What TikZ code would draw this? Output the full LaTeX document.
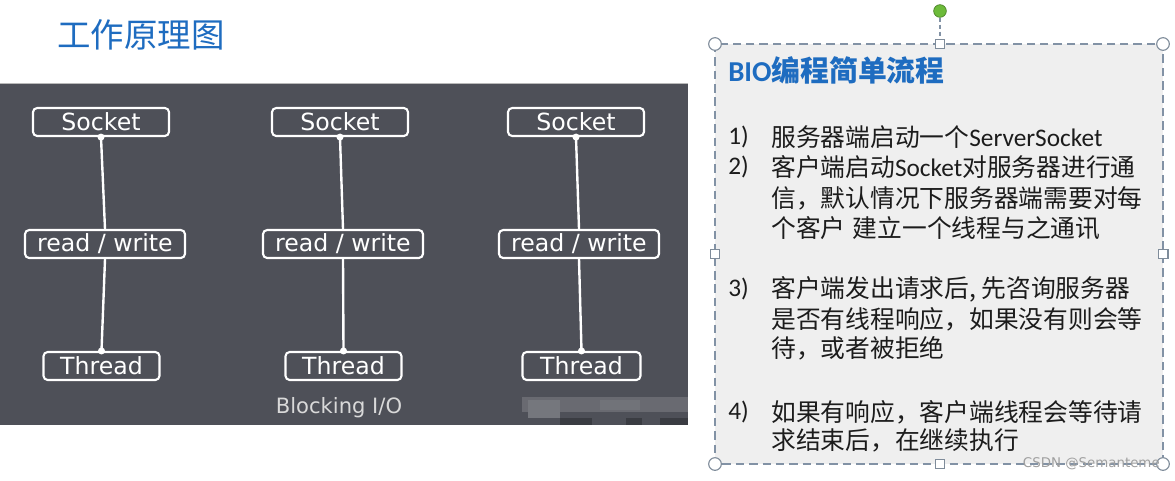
\documentclass[tikz,border=0pt]{standalone}
\usepackage{fontspec}
\setmainfont{Noto Sans CJK SC}
\newfontfamily\dvsans{DejaVu Sans}
\newfontfamily\calib{Carlito}

\definecolor{titleblue}{HTML}{1E6CC0}
\definecolor{panelgray}{HTML}{4E5058}
\definecolor{notegray}{HTML}{EFEFEF}
\definecolor{framegray}{HTML}{8292A5}
\definecolor{handlegray}{HTML}{7F8C9A}
\definecolor{handlegreen}{HTML}{6DBB3A}
\definecolor{inkblack}{HTML}{1C1C1C}

\begin{document}
\begin{tikzpicture}[x=0.025cm,y=-0.025cm,
	iobox/.style={draw=white,line width=1.5pt,rounded corners=3pt,text=white,
		font=\dvsans\fontsize{16.8pt}{19pt}\selectfont,minimum height=0.7cm,inner sep=0pt},
	wire/.style={white,line width=1.7pt},
	dot/.style={circle,fill=white,inner sep=0pt,minimum size=5pt},
	cjktext/.style={anchor=west,text=inkblack,inner sep=0pt,font=\fontsize{17.6pt}{20pt}\selectfont},
	numtext/.style={anchor=west,text=inkblack,inner sep=0pt,font=\calib\fontsize{18pt}{20pt}\selectfont},
	cornerhandle/.style={circle,draw=handlegray,fill=white,line width=0.8pt,minimum size=9pt,inner sep=0pt},
	sidehandle/.style={rectangle,draw=handlegray,fill=white,line width=0.8pt,minimum size=7pt,inner sep=0pt}]

	\useasboundingbox (0,0) rectangle (1175,480);
	\fill[white] (0,0) rectangle (1175,480);

	% title
	\node[anchor=west,text=titleblue,inner sep=0pt,font=\fontsize{23.8pt}{26pt}\selectfont] (title) at (57,35) {工作原理图};

	% blocking I/O panel
	\fill[panelgray] (0,83) rectangle (688,425);
	\draw[gray!55,line width=1pt] (0,83.5) -- (688,83.5);
	\fill[panelgray!85!white] (522,397) rectangle (688,412);
	\fill[panelgray!78!white] (528,400) rectangle (560,418);
	\fill[panelgray!80!white] (600,400) rectangle (640,410);
	\fill[panelgray!75!black] (560,418) rectangle (592,425);
	\fill[panelgray!75!black] (626,418) rectangle (642,425);
	\fill[panelgray!75!black] (660,418) rectangle (688,425);

	\node[iobox,minimum width=3.4cm] (s1) at (101,122) {Socket};
	\node[iobox,minimum width=3.4cm] (s2) at (340,122) {Socket};
	\node[iobox,minimum width=3.4cm] (s3) at (576,122) {Socket};
	\node[iobox,minimum width=4cm] (rw1) at (105,244) {read / write};
	\node[iobox,minimum width=4cm] (rw2) at (343,244) {read / write};
	\node[iobox,minimum width=4cm] (rw3) at (579,244) {read / write};
	\node[iobox,minimum width=2.9cm] (t1) at (101.5,366) {Thread};
	\node[iobox,minimum width=2.9cm] (t2) at (343.5,366) {Thread};
	\node[iobox,minimum width=2.95cm] (t3) at (581.5,366) {Thread};

	\draw[wire] (s1.south) -- (rw1.north) (rw1.south) -- (t1.north);
	\draw[wire] (s2.south) -- (rw2.north) (rw2.south) -- (t2.north);
	\draw[wire] (s3.south) -- (rw3.north) (rw3.south) -- (t3.north);
	\node[dot] at (s1.south) {};
	\node[dot] at (s2.south) {};
	\node[dot] at (s3.south) {};
	\node[dot] at (t1.north) {};
	\node[dot] at (t2.north) {};
	\node[dot] at (t3.north) {};

	\node[text=gray!30,font=\dvsans\fontsize{15pt}{17pt}\selectfont] (blk) at (339,408) {Blocking I/O};

	% note box with selection handles
	\draw[framegray,dashed,dash pattern=on 6pt off 3.5pt,fill=notegray,line width=0.9pt] (715,44) rectangle (1163,464);
	\node[circle,fill=handlegreen,draw=handlegreen!70!black,line width=0.5pt,minimum size=9pt,inner sep=0pt] (rot) at (940,11) {};
	\node[sidehandle] (mt) at (940,44) {};
	\draw[framegray,dashed,dash pattern=on 3pt off 2pt,line width=0.9pt] (rot) -- (mt);
	\node[sidehandle] (ml) at (715,254) {};
	\node[sidehandle] (mr) at (1163,254) {};
	\node[sidehandle] (mb) at (940,464) {};
	\node[cornerhandle] (ctl) at (715,44) {};
	\node[cornerhandle] (ctr) at (1163,44) {};
	\node[cornerhandle] (cbl) at (715,464) {};
	\node[cornerhandle] (cbr) at (1163,464) {};

	\node[anchor=west,text=titleblue,inner sep=0pt,font=\bfseries\fontsize{20.5pt}{24pt}\selectfont] (head) at (728,70) {{\calib\bfseries BIO}编程简单流程};

	\node[numtext] (n1) at (728,137) {1)};
	\node[numtext] (n2) at (728,167) {2)};
	\node[numtext] (n3) at (728,289) {3)};
	\node[numtext] (n4) at (728,412) {4)};

	\node[cjktext] (l1) at (771,137) {服务器端启动一个{\calib\fontsize{18pt}{20pt}\selectfont ServerSocket}};
	\node[cjktext] (l2) at (771,167) {客户端启动{\calib\fontsize{18pt}{20pt}\selectfont Socket}对服务器进行通};
	\node[cjktext] (l3) at (771,198) {信，默认情况下服务器端需要对每};
	\node[cjktext] (l4) at (771,228) {个客户\hspace{0.3em}建立一个线程与之通讯};
	\node[cjktext] (l5) at (771,289) {客户端发出请求后, 先咨询服务器};
	\node[cjktext] (l6) at (771,319) {是否有线程响应，如果没有则会等};
	\node[cjktext] (l7) at (771,348) {待，或者被拒绝};
	\node[cjktext] (l8) at (771,412) {如果有响应，客户端线程会等待请};
	\node[cjktext] (l9) at (771,440) {求结束后，在继续执行};

	\node[anchor=east,text=gray!75,inner sep=0pt,font=\dvsans\fontsize{9.5pt}{12pt}\selectfont] (wm) at (1160,464) {CSDN @Semanteme};
\end{tikzpicture}
\end{document}
